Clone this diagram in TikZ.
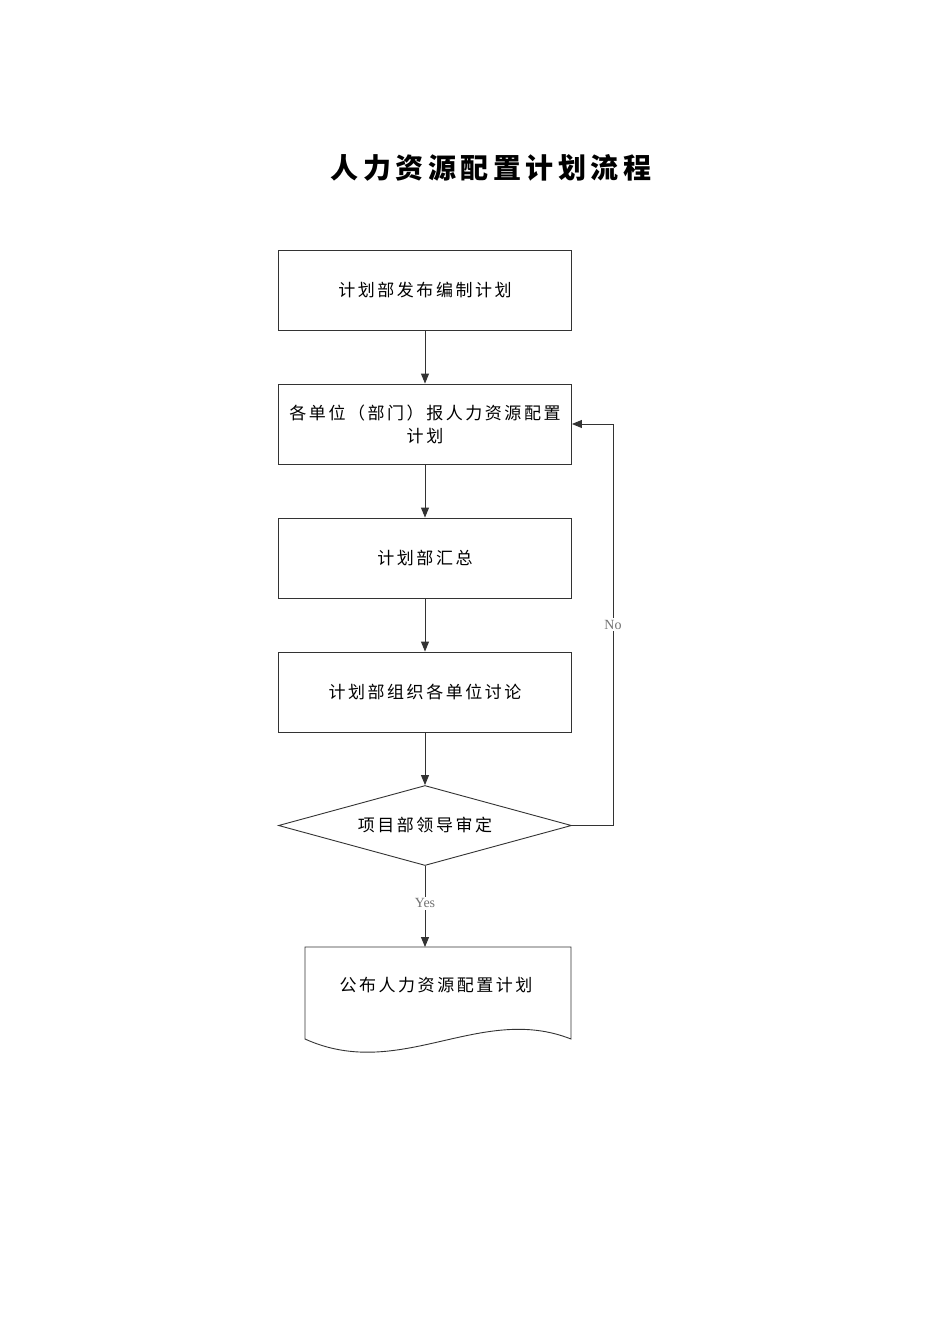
\documentclass[tikz,border=0pt]{standalone}
\usepackage{fontspec}
\usepackage{tikz}
\usetikzlibrary{shapes.geometric,arrows.meta}
\newfontfamily\cjk{Noto Sans CJK SC}[LetterSpace=15]
\newfontfamily\cjktitle{Noto Sans CJK SC}[LetterSpace=16]
\newfontfamily\yesno{Liberation Serif}

\tikzset{
  stepbox/.style={draw=black!80, line width=0.9pt, minimum width=293, minimum height=80,
    inner sep=2pt, font=\cjk\fontsize{17}{23}\selectfont, align=center},
  checkbox/.style={draw=black!80, line width=0.9pt, diamond, aspect=3.66, inner sep=0pt,
    minimum width=293, minimum height=80, font=\cjk\fontsize{17}{23}\selectfont},
  flow/.style={draw=black!80, line width=0.9pt, -{Triangle[length=10pt,width=8pt]}},
  answer/.style={fill=white, text=black!55, inner sep=2pt, font=\yesno\fontsize{14}{14}\selectfont}
}

\begin{document}
\begin{tikzpicture}[x=1pt, y=-1pt]
            \useasboundingbox[fill=white] (0,0) rectangle (950,1344);

            \node[font=\cjktitle\bfseries\fontsize{28}{28}\selectfont] (title) at (491,168) {人力资源配置计划流程};

            \node[stepbox] (issue) at (425,290) {计划部发布编制计划};
            \node[stepbox] (report) at (425,424) {各单位（部门）报人力资源配置\\计划};
            \node[stepbox] (collect) at (425,558) {计划部汇总};
            \node[stepbox] (discuss) at (425,692) {计划部组织各单位讨论};
            \node[checkbox] (approve) at (425,825.5) {项目部领导审定};

            % document shape with wavy bottom
            \coordinate (pubNW) at (305,947);
            \coordinate (pubNE) at (571,947);
            \coordinate (pubtop) at (425,947);
            \draw[black!80, line width=0.9pt] (pubNW) -- (pubNE) -- (571,1039)
                .. controls (480,1003) and (400,1082) .. (305,1039) -- cycle;
            \node[font=\cjk\fontsize{17}{23}\selectfont] (publish) at (436,985) {公布人力资源配置计划};

            \draw[flow] (issue) -- (report);
            \draw[flow] (report) -- (collect);
            \draw[flow] (collect) -- (discuss);
            \draw[flow] (discuss) -- (approve);
            \draw[flow] (approve.south) -- (pubtop) node[pos=0.46, answer] {Yes};
            \draw[flow] (approve.east) -- ++(41,0) |- (report.east) node[pos=0.25, answer] {No};

        \end{tikzpicture}
\end{document}
